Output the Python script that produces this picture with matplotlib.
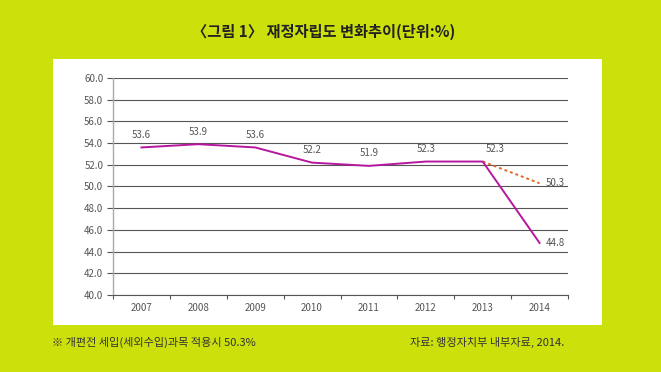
import matplotlib
matplotlib.use("Agg")
import matplotlib.pyplot as plt
from matplotlib.patches import Rectangle
import numpy as np

plt.rcParams['font.family'] = ['Noto Sans CJK KR', 'DejaVu Sans']

# data
years = ['2007', '2008', '2009', '2010', '2011', '2012', '2013', '2014']
ratio = [53.6, 53.9, 53.6, 52.2, 51.9, 52.3, 52.3, 44.8]
alt_years = ['2013', '2014']
alt_ratio = [52.3, 50.3]
yticks = np.arange(40, 60.1, 2)

bg = '#cce00c'
line_col = '#b5179e'
alt_col = '#e0662a'
txt_col = '#555555'

fig = plt.figure(figsize=(6.61, 3.72), dpi=100)
fig.patch.set_facecolor(bg)

W, H = 661, 372
# white panel behind the chart
panel = Rectangle((53 / W, 1 - 325 / H), (602 - 53) / W, (325 - 59) / H,
                  transform=fig.transFigure, facecolor='white',
                  edgecolor='none', zorder=-1)
fig.patches.append(panel)

ax = fig.add_axes([113 / W, 1 - 295 / H, (568 - 113) / W, (295 - 78) / H])
ax.set_zorder(2)
ax.set_facecolor('none')

x = np.arange(len(years))
ax.plot(x, ratio, color=line_col, lw=1.4, zorder=3)
ax_x = [years.index(y) for y in alt_years]
ax.plot(ax_x, alt_ratio, color=alt_col, lw=1.4, ls=(0, (1.5, 1.5)), zorder=2)

fs = 7
# labels
for i, v in enumerate(ratio):
    if i == 7:
        ax.text(i + 0.1, v, f'{v:.1f}', fontsize=fs, color=txt_col, ha='left', va='center')
    elif i == 6:
        ax.text(i + 0.05, v + 0.7, f'{v:.1f}', fontsize=fs, color=txt_col, ha='left', va='bottom')
    else:
        ax.text(i, v + 0.7, f'{v:.1f}', fontsize=fs, color=txt_col, ha='center', va='bottom')
ax.text(ax_x[1] + 0.1, alt_ratio[1], f'{alt_ratio[1]:.1f}', fontsize=fs,
        color=txt_col, ha='left', va='center')

ax.set_xlim(-0.5, len(years) - 0.5)
ax.set_ylim(40, 60)
ax.set_yticks(yticks)
ax.set_yticklabels([f'{v:.1f}' for v in yticks], fontsize=fs, color=txt_col)
ax.yaxis.grid(True, color='#555555', lw=0.8)
ax.set_axisbelow(True)

ax.set_xticks(x)
ax.set_xticklabels(years, fontsize=fs, color=txt_col)
ax.tick_params(axis='x', length=0, pad=6)
ax.set_xticks(np.arange(-0.5, len(years)), minor=True)
ax.tick_params(axis='x', which='minor', length=3, color='#555555', width=0.8)
ax.tick_params(axis='y', length=4, color='#555555', width=0.8, pad=3)

for s in ['top', 'right']:
    ax.spines[s].set_visible(False)
ax.spines['left'].set_color('#aaaaaa')
ax.spines['left'].set_linewidth(1.0)
ax.spines['bottom'].set_color('#555555')
ax.spines['bottom'].set_linewidth(0.8)

fig.text(324 / W, 1 - 32 / H, '〈그림 1〉 재정자립도 변화추이(단위:%)', fontsize=11,
         fontweight='bold', ha='center', va='center', color='#222222')
fig.text(52 / W, 1 - 342 / H, '※ 개편전 세입(세외수입)과목 적용시 50.3%', fontsize=8,
         ha='left', va='center', color='#333333')
fig.text(410 / W, 1 - 342 / H, '자료: 행정자치부 내부자료, 2014.', fontsize=8,
         ha='left', va='center', color='#333333')

fig.savefig('out.png', dpi=100, facecolor=bg)
